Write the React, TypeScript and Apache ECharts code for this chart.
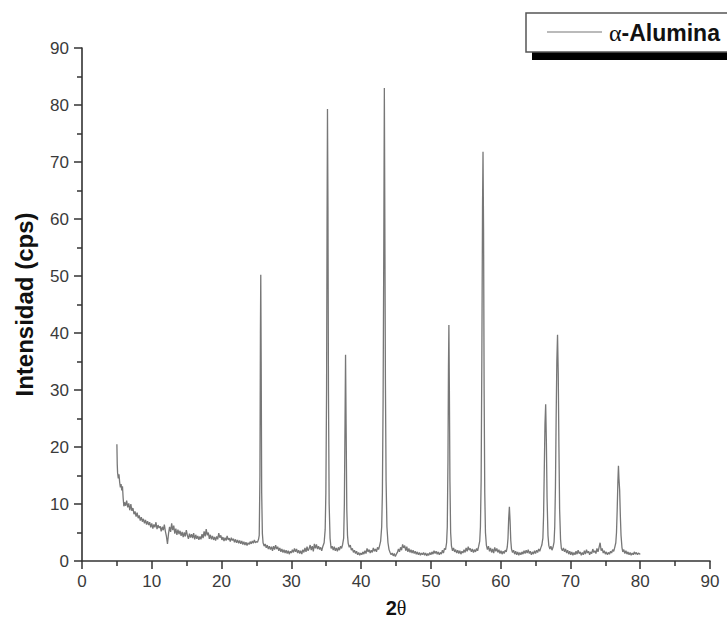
import React, { useEffect, useRef } from "react";
import * as echarts from "echarts";

// XRD scan: [2θ, intensity (cps)]
const scan: [number, number][] = [
  [5.0, 20.5], [5.05, 17], [5.1, 15.5], [5.2, 14.5], [5.3, 15.2], [5.4, 13.8], [5.5, 12.9], [5.6, 13.5], [5.7, 12.4], [5.8, 13.1], [5.9, 11],
  [6.0, 9.6], [6.1, 10.3], [6.25, 9.7], [6.4, 10.6], [6.55, 9.4], [6.7, 10.1], [6.85, 8.9], [7.0, 10.0], [7.15, 8.8], [7.3, 9.3], [7.45, 8.2],
  [7.6, 8.7], [7.75, 7.8], [7.9, 8.5], [8.05, 7.5], [8.2, 8.0], [8.35, 7.1], [8.5, 7.7], [8.65, 6.9], [8.8, 7.4], [8.95, 6.6], [9.1, 7.2],
  [9.25, 6.4], [9.4, 7.0], [9.55, 6.3], [9.7, 6.8], [9.85, 5.9], [10.0, 6.6], [10.15, 5.7], [10.3, 6.4], [10.45, 5.9], [10.6, 6.8], [10.75, 5.6],
  [10.9, 6.3], [11.05, 5.8], [11.2, 6.1], [11.35, 5.2], [11.5, 6.0], [11.65, 5.4], [11.8, 6.4], [11.95, 5.2], [12.1, 4.3], [12.25, 3.0],
  [12.4, 4.8], [12.55, 6.0], [12.7, 5.1], [12.85, 6.6], [13.0, 5.4], [13.15, 6.2], [13.3, 4.8], [13.45, 5.7], [13.6, 4.6], [13.75, 5.5],
  [13.9, 4.7], [14.05, 5.3], [14.2, 4.4], [14.35, 5.1], [14.5, 4.2], [14.65, 5.0], [14.8, 4.3], [14.95, 5.4], [15.1, 4.5], [15.25, 3.9],
  [15.4, 4.8], [15.55, 4.1], [15.7, 4.7], [15.85, 4.0], [16.0, 4.9], [16.15, 3.8], [16.3, 4.6], [16.45, 3.9], [16.6, 4.4], [16.75, 3.7],
  [16.9, 4.3], [17.05, 3.8], [17.2, 4.7], [17.35, 4.0], [17.5, 5.2], [17.65, 4.3], [17.8, 5.6], [17.95, 4.5], [18.1, 5.0], [18.25, 3.9],
  [18.4, 4.6], [18.55, 3.8], [18.7, 4.4], [18.85, 3.7], [19.0, 4.2], [19.15, 3.6], [19.3, 4.3], [19.45, 3.8], [19.6, 4.9], [19.75, 4.1],
  [19.9, 4.5], [20.05, 3.7], [20.2, 4.2], [20.35, 3.5], [20.5, 4.1], [20.65, 3.6], [20.8, 4.4], [20.95, 3.7], [21.1, 4.0], [21.25, 3.4],
  [21.4, 4.1], [21.55, 3.6], [21.7, 3.9], [21.85, 3.3], [22.0, 3.8], [22.15, 3.2], [22.3, 3.7], [22.45, 3.1], [22.6, 3.6], [22.75, 3.0],
  [22.9, 3.5], [23.05, 2.9], [23.2, 3.4], [23.35, 2.8], [23.5, 3.3], [23.65, 2.7], [23.8, 3.2], [23.95, 2.9], [24.1, 3.4], [24.25, 3.0],
  [24.4, 3.5], [24.55, 3.1], [24.7, 3.7], [24.85, 3.2], [25.0, 3.4], [25.15, 3.3], [25.3, 3.8], [25.4, 4.5], [25.5, 15], [25.57, 40],
  [25.62, 50.2], [25.68, 35], [25.75, 12], [25.85, 4.8], [25.95, 3.2], [26.1, 2.6], [26.25, 3.0], [26.4, 2.3], [26.55, 2.8], [26.7, 2.1],
  [26.85, 2.6], [27.0, 2.0], [27.15, 2.5], [27.3, 1.8], [27.45, 2.6], [27.6, 2.0], [27.75, 2.8], [27.9, 2.1], [28.05, 2.5], [28.2, 1.8],
  [28.35, 2.3], [28.5, 1.6], [28.65, 2.1], [28.8, 1.5], [28.95, 2.0], [29.1, 1.4], [29.25, 1.9], [29.4, 1.3], [29.55, 1.8], [29.7, 1.2],
  [29.85, 1.7], [30.0, 1.4], [30.15, 2.0], [30.3, 1.5], [30.45, 2.2], [30.6, 1.6], [30.75, 2.1], [30.9, 1.4], [31.05, 1.9], [31.2, 1.3],
  [31.35, 1.8], [31.5, 1.2], [31.65, 2.0], [31.8, 1.5], [31.95, 2.3], [32.1, 1.6], [32.25, 2.5], [32.4, 1.8], [32.55, 2.2], [32.7, 2.8],
  [32.85, 1.9], [33.0, 2.6], [33.15, 1.7], [33.3, 3.0], [33.45, 2.2], [33.6, 2.9], [33.75, 2.1], [33.9, 2.6], [34.05, 2.0], [34.2, 2.4],
  [34.35, 1.8], [34.5, 2.5], [34.7, 3.2], [34.85, 5.5], [34.95, 12], [35.05, 30], [35.12, 60], [35.18, 79.3], [35.25, 62], [35.32, 30],
  [35.42, 10], [35.55, 4], [35.7, 2.2], [35.85, 2.6], [36.0, 1.9], [36.15, 2.5], [36.3, 1.8], [36.45, 2.3], [36.6, 1.7], [36.75, 2.4],
  [36.9, 1.9], [37.05, 2.6], [37.2, 2.2], [37.35, 2.9], [37.5, 4], [37.6, 10], [37.7, 25], [37.77, 36.2], [37.85, 24], [37.95, 9],
  [38.05, 4.5], [38.15, 3.1], [38.3, 2.4], [38.45, 2.8], [38.6, 1.9], [38.75, 2.2], [38.9, 1.5], [39.05, 1.9], [39.2, 1.3], [39.35, 1.7],
  [39.5, 1.1], [39.65, 1.5], [39.8, 1.0], [39.95, 1.4], [40.1, 1.1], [40.25, 1.6], [40.4, 1.2], [40.55, 1.8], [40.7, 1.3], [40.85, 2.2],
  [41.0, 1.6], [41.15, 2.0], [41.3, 1.4], [41.45, 1.9], [41.6, 1.5], [41.75, 2.3], [41.9, 1.7], [42.05, 2.1], [42.2, 1.6], [42.35, 2.4],
  [42.5, 2.0], [42.65, 2.7], [42.8, 3.5], [42.95, 6], [43.05, 12], [43.15, 28], [43.25, 55], [43.33, 83], [43.4, 60], [43.48, 32],
  [43.58, 14], [43.7, 6], [43.85, 3.2], [44.0, 2.0], [44.15, 1.5], [44.3, 1.1], [44.45, 1.4], [44.6, 0.9], [44.75, 1.3], [44.9, 0.8],
  [45.05, 1.2], [45.2, 1.5], [45.35, 2.1], [45.5, 1.6], [45.65, 2.4], [45.8, 1.9], [45.95, 2.9], [46.1, 2.3], [46.25, 2.7], [46.4, 1.8],
  [46.55, 2.5], [46.7, 1.6], [46.85, 2.2], [47.0, 1.5], [47.15, 2.0], [47.3, 1.4], [47.45, 1.9], [47.6, 1.3], [47.75, 1.7], [47.9, 1.2],
  [48.05, 1.6], [48.2, 1.1], [48.35, 1.5], [48.5, 1.0], [48.65, 1.4], [48.8, 1.1], [48.95, 1.5], [49.1, 1.0], [49.25, 1.4], [49.4, 0.9],
  [49.55, 1.3], [49.7, 1.0], [49.85, 1.5], [50.0, 1.1], [50.15, 1.6], [50.3, 1.2], [50.45, 1.8], [50.6, 1.3], [50.75, 1.7], [50.9, 1.2],
  [51.05, 1.6], [51.2, 1.1], [51.35, 1.5], [51.5, 1.2], [51.65, 1.9], [51.8, 1.4], [51.95, 2.2], [52.1, 2.0], [52.25, 3.2], [52.35, 6],
  [52.45, 18], [52.52, 34], [52.58, 41.4], [52.65, 30], [52.73, 14], [52.83, 5], [52.95, 2.6], [53.1, 1.8], [53.25, 2.3], [53.4, 1.6],
  [53.55, 2.0], [53.7, 1.4], [53.85, 1.9], [54.0, 1.3], [54.15, 1.8], [54.3, 1.2], [54.45, 1.7], [54.6, 1.4], [54.75, 2.0], [54.9, 1.5],
  [55.05, 2.3], [55.2, 1.7], [55.35, 2.5], [55.5, 1.9], [55.65, 2.2], [55.8, 1.6], [55.95, 2.1], [56.1, 1.5], [56.25, 2.0], [56.4, 1.6],
  [56.55, 2.2], [56.7, 1.8], [56.85, 2.6], [57.0, 3.5], [57.1, 6], [57.2, 14], [57.3, 35], [57.4, 62], [57.47, 71.8], [57.55, 58],
  [57.63, 30], [57.72, 12], [57.82, 5], [57.95, 2.8], [58.1, 2.0], [58.25, 2.6], [58.4, 1.7], [58.55, 2.3], [58.7, 1.5], [58.85, 2.1],
  [59.0, 1.4], [59.15, 2.4], [59.3, 1.7], [59.45, 2.2], [59.6, 1.5], [59.75, 2.0], [59.9, 1.3], [60.05, 1.8], [60.2, 1.2], [60.35, 1.7],
  [60.5, 1.3], [60.65, 1.9], [60.8, 1.6], [60.95, 2.5], [61.05, 4], [61.15, 7.5], [61.25, 9.5], [61.35, 7], [61.45, 3.6], [61.55, 2.1],
  [61.7, 1.5], [61.85, 1.9], [62.0, 1.2], [62.15, 1.7], [62.3, 1.1], [62.45, 1.6], [62.6, 1.0], [62.75, 1.5], [62.9, 1.1], [63.05, 1.6],
  [63.2, 1.2], [63.35, 1.8], [63.5, 1.3], [63.65, 1.9], [63.8, 1.4], [63.95, 2.0], [64.1, 1.3], [64.25, 1.7], [64.4, 1.1], [64.55, 1.6],
  [64.7, 1.2], [64.85, 1.8], [65.0, 1.3], [65.15, 1.9], [65.3, 1.5], [65.45, 2.1], [65.6, 1.7], [65.75, 2.3], [65.9, 2.8], [66.05, 4],
  [66.15, 8], [66.25, 16], [66.35, 24], [66.45, 27.5], [66.55, 21], [66.65, 11], [66.78, 4.5], [66.9, 2.7], [67.05, 2.1], [67.2, 2.6],
  [67.35, 1.9], [67.5, 2.4], [67.65, 3.3], [67.75, 6], [67.85, 13], [67.95, 25], [68.05, 35], [68.15, 39.7], [68.25, 33], [68.35, 20],
  [68.45, 9], [68.58, 3.8], [68.7, 2.2], [68.85, 1.8], [69.0, 2.3], [69.15, 1.6], [69.3, 2.1], [69.45, 1.4], [69.6, 1.9], [69.75, 1.2],
  [69.9, 1.7], [70.05, 1.1], [70.2, 1.6], [70.35, 1.0], [70.5, 1.5], [70.65, 1.1], [70.8, 1.7], [70.95, 1.2], [71.1, 1.9], [71.25, 1.3],
  [71.4, 1.6], [71.55, 1.0], [71.7, 1.5], [71.85, 1.1], [72.0, 1.8], [72.15, 1.2], [72.3, 2.0], [72.45, 1.4], [72.6, 1.7], [72.75, 1.1],
  [72.9, 1.6], [73.05, 1.3], [73.2, 2.1], [73.35, 1.5], [73.5, 1.8], [73.65, 1.3], [73.8, 2.2], [73.95, 1.6], [74.1, 2.4], [74.25, 3.2],
  [74.4, 1.8], [74.55, 2.2], [74.7, 1.4], [74.85, 1.8], [75.0, 1.2], [75.15, 1.6], [75.3, 1.1], [75.45, 1.5], [75.6, 1.2], [75.75, 1.7],
  [75.9, 1.4], [76.05, 2.0], [76.2, 1.7], [76.35, 2.4], [76.5, 3.2], [76.6, 5], [76.7, 9], [76.8, 14], [76.88, 16.7], [76.95, 14.5],
  [77.05, 12.5], [77.15, 8], [77.25, 4.5], [77.38, 2.4], [77.5, 1.6], [77.65, 2.0], [77.8, 1.3], [77.95, 1.8], [78.1, 1.2], [78.25, 1.6],
  [78.4, 1.1], [78.55, 1.5], [78.7, 1.0], [78.85, 1.4], [79.0, 1.1], [79.15, 1.6], [79.3, 1.2], [79.45, 1.5], [79.6, 1.1], [79.75, 1.4],
  [79.9, 1.2], [80.0, 1.3],
];

const seriesName = "α-Alumina";
const yAxisName = "Intensidad (cps)";

export default function App() {
  const ref = useRef<HTMLDivElement>(null);
  useEffect(() => {
    if (!ref.current) return;
    const chart = echarts.init(ref.current, null, { renderer: "svg" });
    const axisColor = "#333";
    const labelStyle = { fontFamily: "Liberation Sans, Arial, sans-serif", fontSize: 17, color: "#3a3a3a" };
    chart.setOption({
      animation: false,
      backgroundColor: "#fff",
      grid: { left: 82, right: 17, top: 48, bottom: 74, containLabel: false },
      xAxis: {
        type: "value",
        min: 0,
        max: 90,
        interval: 10,
        name: "{a|2}{b|θ}",
        nameLocation: "middle",
        nameGap: 37,
        nameTextStyle: {
          rich: {
            a: { fontFamily: "Liberation Sans, Arial, sans-serif", fontWeight: "bold", fontSize: 20, color: "#111" },
            b: { fontFamily: "Liberation Serif, Times New Roman, serif", fontSize: 20, color: "#111" },
          },
        },
        axisLine: { show: true, onZero: false, lineStyle: { color: axisColor, width: 1.6 } },
        axisTick: { show: true, inside: false, length: 8, lineStyle: { color: axisColor, width: 1.5 } },
        minorTick: { show: true, splitNumber: 2, length: 5, lineStyle: { color: axisColor, width: 1.5 } },
        splitLine: { show: false },
        minorSplitLine: { show: false },
        axisLabel: { ...labelStyle, margin: 12 },
      },
      yAxis: {
        type: "value",
        min: 0,
        max: 90,
        interval: 10,
        name: yAxisName,
        nameLocation: "middle",
        nameGap: 46,
        nameRotate: 90,
        nameTextStyle: { fontFamily: "Liberation Sans, Arial, sans-serif", fontWeight: "bold", fontSize: 24, color: "#111" },
        axisLine: { show: true, onZero: false, lineStyle: { color: axisColor, width: 1.6 } },
        axisTick: { show: true, inside: false, length: 8, lineStyle: { color: axisColor, width: 1.5 } },
        minorTick: { show: true, splitNumber: 2, length: 5, lineStyle: { color: axisColor, width: 1.5 } },
        splitLine: { show: false },
        minorSplitLine: { show: false },
        axisLabel: { ...labelStyle, margin: 13 },
      },
      series: [
        {
          name: seriesName,
          type: "line",
          data: scan,
          showSymbol: false,
          symbol: "none",
          lineStyle: { color: "#777", width: 1.3 },
          clip: true,
        },
      ],
      graphic: [
        { type: "rect", shape: { x: 532, y: 51, width: 220, height: 9 }, style: { fill: "#000" }, z: 100 },
        { type: "rect", shape: { x: 526, y: 13, width: 220, height: 39 }, style: { fill: "#fff", stroke: "#555", lineWidth: 1.5 }, z: 101 },
        { type: "line", shape: { x1: 547, y1: 32, x2: 602, y2: 32 }, style: { stroke: "#777", lineWidth: 1.2 }, z: 102 },
        {
          type: "text",
          x: 609,
          y: 33,
          z: 102,
          style: {
            text: "{a|α}{b|-Alumina}",
            verticalAlign: "middle",
            rich: {
              a: { fontFamily: "Liberation Serif, Times New Roman, serif", fontSize: 24, fill: "#111" },
              b: { fontFamily: "Liberation Sans, Arial, sans-serif", fontWeight: "bold", fontSize: 23, fill: "#111" },
            },
          },
        },
      ],
    });
    return () => chart.dispose();
  }, []);
  return <div ref={ref} style={{ position: "fixed", left: 0, top: 0, width: 727, height: 635 }} />;
}
